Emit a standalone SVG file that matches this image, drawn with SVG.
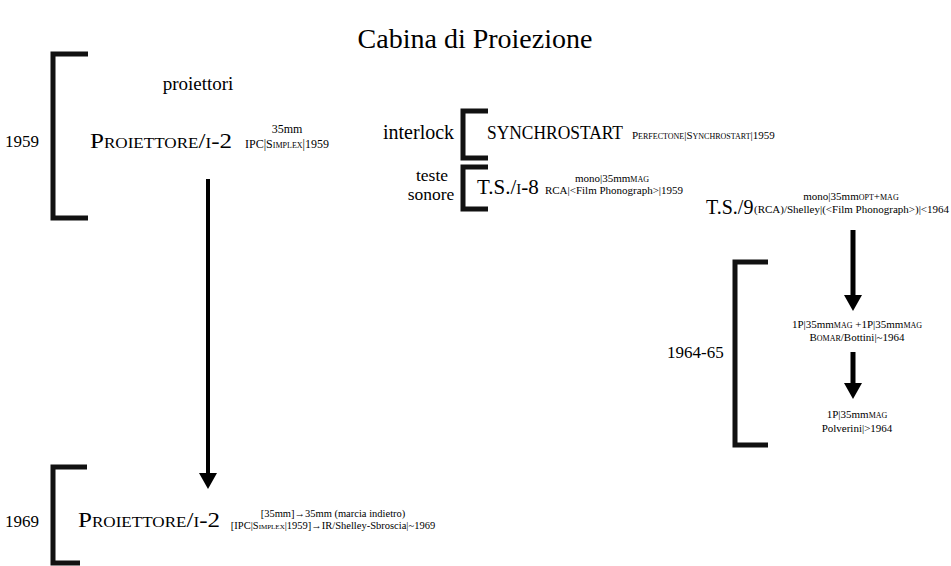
<svg xmlns="http://www.w3.org/2000/svg" width="951" height="566" viewBox="0 0 951 566" font-family="'Liberation Serif', 'DejaVu Serif', serif">
<style>
text { font-family: 'Liberation Serif', 'DejaVu Serif', serif; fill: #000; }
.sc { font-variant: small-caps; }
.br { fill: none; stroke: #111; stroke-width: 5; stroke-linejoin: miter; }
.ar { stroke: #000; fill: none; }
.mid { text-anchor: middle; }
</style>
<defs>
<marker id="head" markerUnits="userSpaceOnUse" markerWidth="16" markerHeight="18" viewBox="0 0 16 18" refX="1" refY="9" orient="auto">
<path d="M0,0 L16,9 L0,18 Z" fill="#000"/>
</marker>
</defs>
<rect width="951" height="566" fill="#fff"/>
<text x="475" y="48" class="mid" font-size="28">Cabina di Proiezione</text>

<g id="connectors">
<line class="ar" x1="208" y1="179" x2="208" y2="474" stroke-width="4" marker-end="url(#head)"/>
<line class="ar" x1="853" y1="230" x2="853" y2="296" stroke-width="5" marker-end="url(#head)"/>
<line class="ar" x1="853" y1="352" x2="853" y2="384" stroke-width="5" marker-end="url(#head)"/>
</g>

<g id="group-1959">
<path class="br" d="M88,54 H53 V218 H88"/>
<text x="5" y="147" font-size="17">1959</text>
<text x="198" y="90" class="mid" font-size="19">proiettori</text>
</g>

<g id="proiettore-1959">
<text x="90" y="148" class="sc" font-size="22" textLength="142" lengthAdjust="spacingAndGlyphs">Proiettore/i-2</text>
<text x="287" y="133" class="mid" font-size="12">35mm</text>
<text x="287" y="148" class="mid sc" font-size="12">IPC|Simplex|1959</text>
</g>

<g id="interlock">
<path class="br" d="M488,111 H463 V158 H488"/>
<text x="383" y="139" font-size="20">interlock</text>
<text x="487" y="139" font-size="18" textLength="136" lengthAdjust="spacingAndGlyphs">SYNCHROSTART</text>
<text x="632" y="139" class="sc" font-size="11">Perfectone|Synchrostart|1959</text>
</g>

<g id="teste-sonore">
<path class="br" d="M488,167 H463 V209 H488"/>
<text x="432" y="181" class="mid" font-size="17.5">teste</text>
<text x="431" y="200" class="mid" font-size="17.5">sonore</text>
</g>

<g id="ts-1-8">
<text x="477" y="194" class="sc" font-size="21">T.S./i-8</text>
<text x="612" y="182" class="mid" font-size="11">mono|35mm<tspan class="sc">mag</tspan></text>
<text x="614" y="194" class="mid" font-size="11">RCA|&lt;Film Phonograph&gt;|1959</text>
</g>

<g id="ts-9">
<text x="706" y="214" font-size="20">T.S./9</text>
<text x="851" y="200" class="mid" font-size="11">mono|35mm<tspan class="sc">opt+mag</tspan></text>
<text x="754" y="213" font-size="11">(RCA)/Shelley|(&lt;Film Phonograph&gt;)|&lt;1964</text>
</g>

<g id="group-1964-65">
<path class="br" d="M768,262 H735 V445 H768"/>
<text x="667" y="358" font-size="17">1964-65</text>
</g>

<g id="bomar">
<text x="857" y="328" class="mid" font-size="11">1P|35mm<tspan class="sc">mag</tspan> +1P|35mm<tspan class="sc">mag</tspan></text>
<text x="857" y="341" class="mid" font-size="11"><tspan class="sc">Bomar</tspan>/Bottini|~1964</text>
</g>

<g id="polverini">
<text x="857" y="418" class="mid" font-size="11">1P|35mm<tspan class="sc">mag</tspan></text>
<text x="857" y="432" class="mid" font-size="11">Polverini|&gt;1964</text>
</g>

<g id="group-1969">
<path class="br" d="M87,467 H53 V563 H80"/>
<text x="5" y="527" font-size="17">1969</text>
</g>

<g id="proiettore-1969">
<text x="78" y="527" class="sc" font-size="22" textLength="142" lengthAdjust="spacingAndGlyphs">Proiettore/i-2</text>
<text x="333" y="517" class="mid" font-size="10.5">[35mm]→35mm (marcia indietro)</text>
<text x="333" y="529" class="mid" font-size="10.5">[IPC|S<tspan class="sc">implex</tspan>|1959]→IR/Shelley-Sbroscia|~1969</text>
</g>
</svg>
